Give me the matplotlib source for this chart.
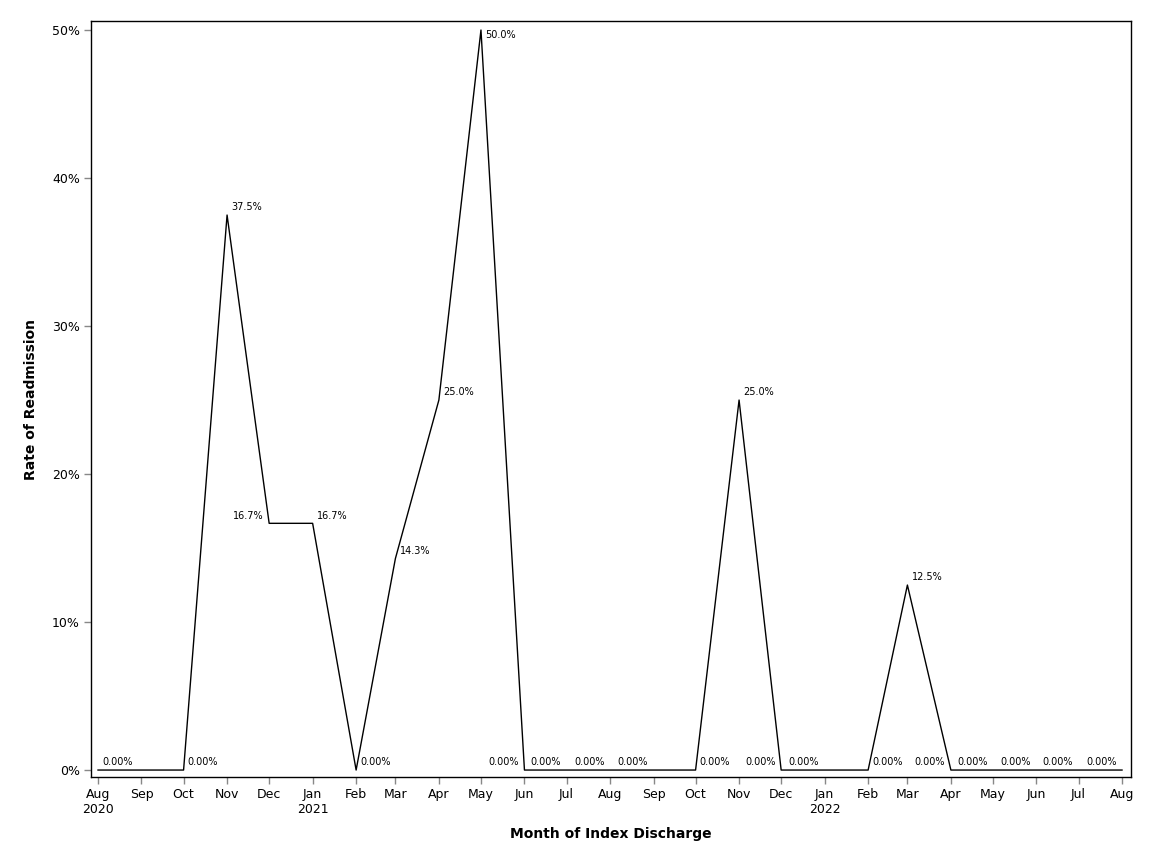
import matplotlib
matplotlib.use('Agg')
import matplotlib.pyplot as plt
import pandas as pd
from matplotlib.ticker import PercentFormatter

# monthly readmission rate (%), Aug 2020 .. Aug 2022
months = pd.date_range('2020-08-01', '2022-08-01', freq='MS')
rates = [0, 0, 0, 37.5, 16.67, 16.67, 0, 14.29, 25.0, 50.0,
         0, 0, 0, 0, 0, 25.0, 0, 0, 0, 12.5,
         0, 0, 0, 0, 0]

# where SAS put each point label: r = right, rb = right/below, l = left, '' = dropped
label_side = ['r', '', 'r', 'r', 'l', 'r', 'r', 'r', 'r', 'rb',
              'l', 'l', 'l', 'l', 'r', 'r', 'l', 'l', 'r', 'r',
              'l', 'l', 'l', 'l', 'l']


def fmt_rate(v):
    return '0.00%' if v == 0 else f'{v:.1f}%'


fig = plt.figure(figsize=(11.52, 8.64), dpi=100)
ax = fig.add_axes([91 / 1152, 1 - 777 / 864, 1040 / 1152, 756 / 864])

ax.plot(months, rates, color='black', lw=1.0)

for d, v, side in zip(months, rates, label_side):
    if not side:
        continue
    if side == 'r':
        ax.annotate(fmt_rate(v), xy=(d, v), xytext=(3, 2), textcoords='offset points',
                    ha='left', va='bottom', fontsize=7)
    elif side == 'rb':
        ax.annotate(fmt_rate(v), xy=(d, v), xytext=(3, 0), textcoords='offset points',
                    ha='left', va='top', fontsize=7)
    else:
        ax.annotate(fmt_rate(v), xy=(d, v), xytext=(-4, 2), textcoords='offset points',
                    ha='right', va='bottom', fontsize=7)

ax.set_xlim(months[0] - pd.Timedelta(days=5), months[-1] + pd.Timedelta(days=6.4))
ax.set_ylim(-0.47, 50.61)

ax.set_xticks(months)
xlabels = []
for d in months:
    lab = d.strftime('%b')
    if d.month == 1 or d == months[0]:
        lab += '\n' + str(d.year)
    xlabels.append(lab)
ax.set_xticklabels(xlabels)
ax.set_yticks([0, 10, 20, 30, 40, 50])
ax.yaxis.set_major_formatter(PercentFormatter(decimals=0))

ax.tick_params(axis='both', direction='out', length=5, width=1, color='#888888',
               labelsize=9, pad=3)
for sp in ax.spines.values():
    sp.set_linewidth(1.0)
    sp.set_color('black')

ax.set_xlabel('Month of Index Discharge', fontsize=10, fontweight='bold', labelpad=8)
ax.set_ylabel('Rate of Readmission', fontsize=10, fontweight='bold', labelpad=10)

fig.savefig('out.png', dpi=100)
